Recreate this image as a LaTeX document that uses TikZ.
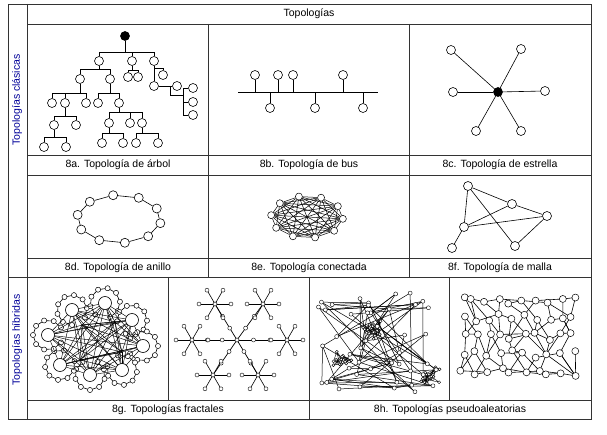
\documentclass[tikz,border=0pt]{standalone}
\usepackage{fontspec}
\setmainfont{Liberation Sans}
\usetikzlibrary{calc}
\begin{document}
\begin{tikzpicture}[x=1pt,y=-1pt,
  nd/.style={circle,draw,fill=white,inner sep=0pt,minimum size=9pt,line width=0.6pt},
  fnd/.style={nd,fill=black},
  sn/.style={circle,draw,fill=white,inner sep=0pt,minimum size=6pt,line width=0.5pt},
  tn/.style={circle,draw,fill=white,inner sep=0pt,minimum size=4pt,line width=0.4pt},
  captxt/.style={font=\fontsize{10.5}{12}\selectfont},
  sidetxt/.style={font=\fontsize{10.5}{12}\selectfont,text=blue!60!black,rotate=90},
  ln/.style={line width=0.6pt},
  tgrid/.style={line width=0.6pt,draw=black!80}]
\useasboundingbox (0,0) rectangle (607,435);
\fill[white] (0,0) rectangle (607,435);
% table
\draw[tgrid] (8,4) rectangle (591,419);
\draw[tgrid] (27,4) -- (27,419);
\draw[tgrid] (27,24) -- (591,24);
\draw[tgrid] (27,155) -- (591,155) (27,175) -- (591,175) (27,258) -- (591,258);
\draw[tgrid] (8,277) -- (591,277) (27,400) -- (591,400);
\draw[tgrid] (208,24) -- (208,277) (409,24) -- (409,277);
\draw[tgrid] (168,277) -- (168,400) (449,277) -- (449,400) (309,277) -- (309,419);
\node[captxt] (h) at (309,14) {Topologías};
\node[sidetxt] (s1) at (17,100) {Topologías clásicas};
\node[sidetxt] (s2) at (17,340) {Topologías híbridas};
\node[captxt] (ca) at (118,165) {8a. Topología de árbol};
\node[captxt] (cb) at (309,165) {8b. Topología de bus};
\node[captxt] (cc) at (500,165) {8c. Topología de estrella};
\node[captxt] (cd) at (118,267.5) {8d. Topología de anillo};
\node[captxt] (ce) at (309,267.5) {8e. Topología conectada};
\node[captxt] (cf) at (500,267.5) {8f. Topología de malla};
\node[captxt] (cg) at (168,410) {8g. Topologías fractales};
\node[captxt] (ch) at (450,410) {8h. Topologías pseudoaleatorias};
% ---------- tree
\node[fnd] (r) at (125,36) {};
\foreach \n/\x/\y in {a1/99/61,a2/132/61,a3/154/61,b1/80/79,b2/110/79,b3/128/77,b4/138/77,
  b5/154/86,b6/163/75,c0/177/86,d1/193/88,d2/193/102,d3/193/115,
  c1/52/103,c2/65/103,c3/86/103,c4/98/103,c5/119/103,e1/54/125,e2/76/125,
  f1/44/147,f2/66/147,e3/109/123,e4/130/123,e5/142/123,f3/102/143,f4/123/143,f5/136/143,f6/158/143}
  \node[nd] (\n) at (\x,\y) {};
\foreach \p/\c/\b in {r/a1/52,r/a2/52,r/a3/52,a1/b1/69,a1/b2/69,a2/b3/70,a2/b4/70,a3/b6/68,
  b1/c1/93,b1/c2/93,b1/c3/93,b2/c4/93,b2/c5/93,c2/e1/116,c2/e2/116,e1/f1/137,e1/f2/137,
  c5/e3/112,c5/e4/112,c5/e5/112,e3/f3/133,e3/f4/133,e5/f5/133,e5/f6/133}
  {\path (0,\b) coordinate (tb);
   \draw[ln] (\p) -- (\p|-tb) -| (\c);}
\draw[ln] (a3) -- (b5) (b5) -- (c0);
\coordinate (t1) at (170,86);
\coordinate (t2) at (183,95);
\draw[ln] (t1) |- (t2);
\draw[ln] (d1) -| (t2) (d3) -| (t2) (d2) -- (d2-|t2);
% ---------- bus
\coordinate (bl) at (238,92); \coordinate (br) at (378,92);
\draw[ln] (bl) -- (br);
\foreach \i/\x in {1/255,2/278,3/293,4/343} {\node[nd] (u\i) at (\x,75) {}; \draw[ln] (u\i) -- (u\i|-bl);}
\foreach \i/\x in {1/270,2/315,3/363} {\node[nd] (w\i) at (\x,108) {}; \draw[ln] (w\i) -- (w\i|-bl);}
% ---------- star
\node[fnd] (sc) at (498,92) {};
\foreach \i/\x/\y in {1/451/50,2/521/49,3/453/92,4/545/91,5/476/131,6/521/131}
  {\node[nd] (s\i) at (\x,\y) {}; \draw[ln] (sc) -- (s\i);}
% ---------- ring
\foreach \i in {0,...,9} \node[nd] (g\i) at ({119+42*cos(36*\i+10)},{219+24*sin(36*\i+10)}) {};
\foreach \i [evaluate=\i as \j using {int(mod(\i+1,10))}] in {0,...,9} \draw[ln] (g\i) -- (g\j);
% ---------- connected
\foreach \i in {0,...,9} \node[sn,minimum size=7pt] (k\i) at ({307+36*cos(36*\i+5)},{217+21*sin(36*\i+5)}) {};
\foreach \i in {0,...,9} \foreach \j in {0,...,9} {\ifnum\i<\j \draw[line width=0.5pt] (k\i) -- (k\j);\fi}
% ---------- mesh
\foreach \n/\x/\y in {m1/468/186,m2/512/204,m3/547/216,m4/464/227,m5/452/248,m6/515/246}
  \node[nd] (\n) at (\x,\y) {};
\foreach \a/\b in {m1/m2,m1/m4,m1/m6,m2/m4,m2/m3,m4/m3,m4/m5,m6/m3} \draw[ln] (\a) -- (\b);
% ---------- fractal mesh (8g left)
\foreach \i/\x/\y/\a in {1/72/310/-120,2/105/303/-80,3/132/320/-35,4/143/346/0,5/122/370/45,6/90/375/90,7/60/365/135,8/48/335/180}{
  \foreach \k in {0,...,8} \node[tn,minimum size=5pt] (q\i-\k) at ({\x+15*cos(\a-150+37.5*\k)},{\y+15*sin(\a-150+37.5*\k)}) {};
  \foreach \k [evaluate=\k as \l using {int(\k+1)}] in {0,...,7} \draw[line width=0.6pt] (q\i-\k) -- (q\i-\l);
  \foreach \k in {0,...,8} \node[tn,minimum size=5pt] at (q\i-\k) {};
}
\foreach \i/\x/\y in {1/72/310,2/105/303,3/132/320,4/143/346,5/122/370,6/90/375,7/60/365,8/48/335,9/82/325,10/115/322,11/122/352,12/80/360}
  \coordinate (z\i) at (\x,\y);
\foreach \i in {1,...,12} \foreach \j in {1,...,12} {\ifnum\i<\j \draw[line width=0.45pt] (z\i) -- (z\j);\fi}
\foreach \i in {1,...,8} \node[circle,draw,fill=white,inner sep=0pt,minimum size=13pt,line width=0.6pt] (Q\i) at (z\i) {};
% ---------- fractal star (8g right)
\node[tn] (fc) at (237,340) {};
\foreach \i/\x/\y in {1/215/304,2/263/304,3/192/340,4/287/340,5/213/375,6/258/375}{
  \node[tn] (fs\i) at (\x,\y) {};
  \draw[line width=0.7pt] (fc) -- (fs\i);
  \node[tn] at ($(fc)!0.33!(fs\i)$) {};
  \node[tn] at ($(fc)!0.66!(fs\i)$) {};
  \foreach \k in {0,...,5}{
    \node[tn] (fl\i-\k) at ({\x+16*cos(60*\k)},{\y+16*sin(60*\k)}) {};
    \draw[line width=0.6pt] (fs\i) -- (fl\i-\k);}
  \node[tn] at (fs\i) {};
}
\node[tn] at (fc) {};
% ---------- pseudo-random left
\pgfmathsetseed{7}
\foreach \i in {1,...,45}{
  \pgfmathsetmacro\px{318+rnd*120}
  \pgfmathsetmacro\py{287+rnd*105}
  \coordinate (pr\i) at (\px,\py);
}
\foreach \i [evaluate=\i as \n using {int(mod(\i,45)+1)}] in {1,...,45}{
  \pgfmathtruncatemacro\j{1+int(rnd*45)}
  \draw[line width=0.5pt] (pr\i) -- (pr\j);
  \ifodd\i \draw[line width=0.5pt] (pr\i) -- (pr\n);\fi
}
\foreach \cx/\cy/\cn in {373/328/A,432/375/B,342/362/C}{
  \foreach \i in {1,...,20} \coordinate (cl\cn\i) at ({\cx+12*rnd*cos(rnd*360)},{\cy+11*rnd*sin(rnd*360)});
  \foreach \i in {1,...,20}{
    \pgfmathtruncatemacro\j{1+int(rnd*20)}
    \pgfmathtruncatemacro\k{1+int(rnd*20)}
    \draw[line width=0.4pt] (cl\cn\i) -- (cl\cn\j) (cl\cn\i) -- (cl\cn\k);}
  \foreach \i in {1,...,20} \node[tn,minimum size=3pt] at (cl\cn\i) {};
}
\foreach \i in {1,...,45} \node[tn] at (pr\i) {};
% ---------- pseudo-random right
\foreach \c in {0,...,9} \foreach \r in {0,...,4}{
  \coordinate (pq\c-\r) at ({462+\c*12.5+(rnd-0.5)*8},{300+\r*18+(rnd-0.5)*8});
}
\foreach \c in {0,...,9} \foreach \r in {0,...,4}{
  \pgfmathtruncatemacro\cc{min(9,\c+1+int(rnd*2))}
  \pgfmathtruncatemacro\rr{min(4,\r+int(rnd*2))}
  \ifnum\c<9 \draw[line width=0.6pt] (pq\c-\r) -- (pq\cc-\rr); \fi
  \pgfmathtruncatemacro\rd{min(4,\r+1)}
  \pgfmathtruncatemacro\cd{max(0,min(9,\c+int(rnd*3)-1))}
  \ifnum\r<4 \draw[line width=0.6pt] (pq\c-\r) -- (pq\cd-\rd);\fi
}
\foreach \c in {0,...,9} \foreach \r in {0,...,4} \node[sn,minimum size=7pt] at (pq\c-\r) {};
\end{tikzpicture}
\end{document}
